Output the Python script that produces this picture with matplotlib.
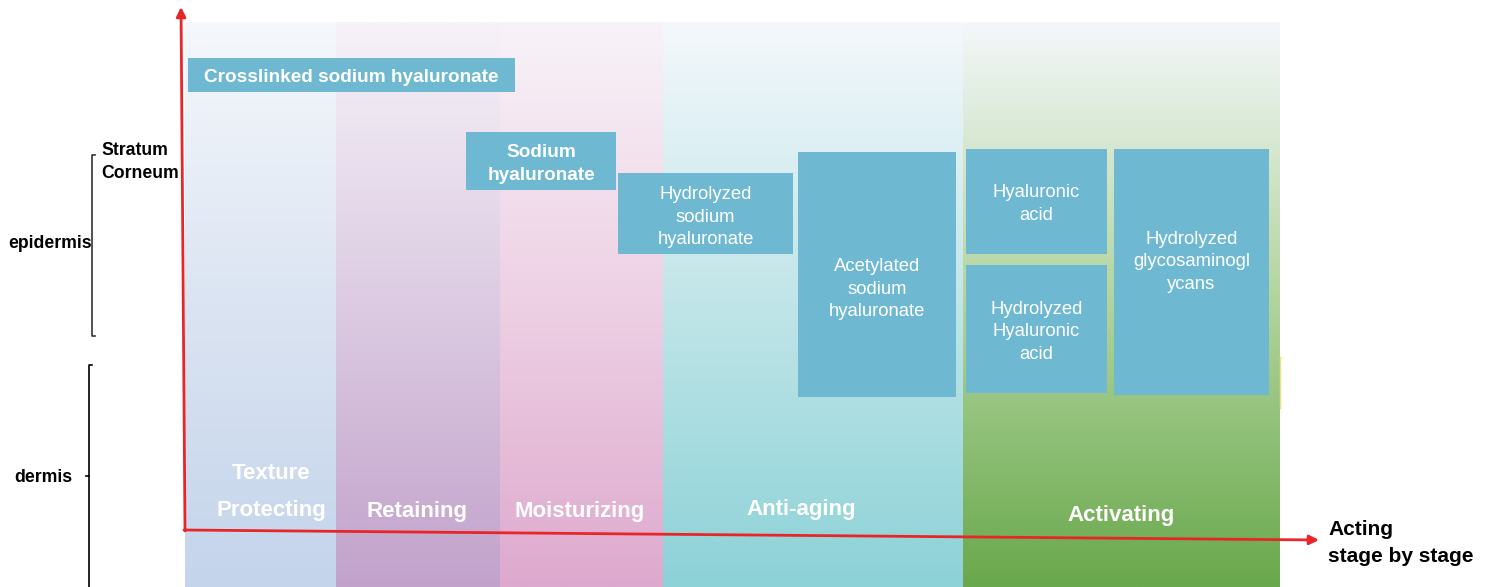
import numpy as np
import matplotlib
matplotlib.use("Agg")
import matplotlib.pyplot as plt
from matplotlib.colors import to_rgb

plt.rcParams['font.family'] = ['Liberation Sans', 'DejaVu Sans']

# ---- data ----
stages = ["Texture\nProtecting", "Retaining", "Moisturizing", "Anti-aging", "Activating"]
stage_left = [185, 336, 500, 663, 963]
stage_right = [336, 500, 663, 963, 1280]
stage_top_colors = ["#f5f8fc", "#f6f2f8", "#f8f3f8", "#f4f8fc", "#f4f7fa"]
stage_mid_colors = ["#dbe4f2", "#dccbe2", "#edd0e4", "#c0e5e8", "#b0d49c"]
stage_bottom_colors = ["#c4d4eb", "#c2a2cb", "#dea9ce", "#8cd2d7", "#69a84c"]
stage_label_x = [271, 417, 580, 801, 1121]
stage_label_y = [492, 512, 512, 510, 516]

ingredients = ["Crosslinked sodium hyaluronate", "Sodium\nhyaluronate",
               "Hydrolyzed\nsodium\nhyaluronate", "Acetylated\nsodium\nhyaluronate",
               "Hyaluronic\nacid", "Hydrolyzed\nHyaluronic\nacid",
               "Hydrolyzed\nglycosaminogl\nycans"]
ing_bold = [True, True, False, False, False, False, False]
ing_x0 = [188, 466, 618, 798, 966, 966, 1114]
ing_x1 = [515, 616, 793, 956, 1107, 1107, 1269]
ing_y0 = [58, 132, 173, 152, 149, 265, 149]
ing_y1 = [92, 190, 254, 397, 254, 393, 395]
ing_text_y = [77, 164, 217, 289, 204, 332, 262]

layers = ["epidermis", "dermis"]
box_color = "#6fb8d2"
red = "#e8262a"

fig = plt.figure(figsize=(15.02, 5.87), dpi=100)
ax = fig.add_axes([0, 0, 1, 1])
ax.set_xlim(0, 1502)
ax.set_ylim(587, 0)
ax.axis('off')

# gradient columns (three-stop vertical gradients)
top_y, bot_y = 22, 587
t = np.linspace(0, 1, 256)
for l, r, tc, mc, bc in zip(stage_left, stage_right, stage_top_colors,
                            stage_mid_colors, stage_bottom_colors):
    c0, cm, c1 = (np.array(to_rgb(c)) for c in (tc, mc, bc))
    img = np.empty((256, 2, 3))
    for k in range(3):
        col = np.interp(t, [0, 0.5, 1], [c0[k], cm[k], c1[k]])
        img[:, :, k] = col[:, None]
    ax.imshow(img, extent=[l, r, bot_y, top_y], aspect='auto', interpolation='bilinear', zorder=1)

# faint yellow edge line on the last column
ax.plot([1280, 1280], [357, 408], color='#f3dc84', lw=1, zorder=1.5)

# stage labels
for s, x, y in zip(stages, stage_label_x, stage_label_y):
    ax.text(x, y, s, ha='center', va='center', color='white', fontsize=16,
            fontweight='bold', linespacing=2.0, zorder=3)

# ingredient boxes
for name, b, x0, x1, y0, y1, ty in zip(ingredients, ing_bold, ing_x0, ing_x1, ing_y0, ing_y1, ing_text_y):
    ax.add_patch(plt.Rectangle((x0, y0), x1 - x0, y1 - y0, facecolor=box_color,
                               edgecolor='none', zorder=2))
    ax.text((x0 + x1) / 2, ty, name, ha='center', va='center', color='white',
            fontsize=13.7 if b else 13.3, fontweight='bold' if b else 'normal',
            linespacing=1.4, zorder=3)

# red axes
ax.annotate("", xy=(181, 7), xytext=(185, 531),
            arrowprops=dict(arrowstyle='-|>', color=red, lw=2, mutation_scale=14,
                            shrinkA=0, shrinkB=0), zorder=5)
ax.annotate("", xy=(1319, 540), xytext=(184, 530),
            arrowprops=dict(arrowstyle='-|>', color=red, lw=2, mutation_scale=14,
                            shrinkA=0, shrinkB=0), zorder=5)
ax.text(1328, 543, "Acting\nstage by stage", ha='left', va='center', fontsize=15,
        fontweight='bold', color='black', linespacing=1.55)

# left labels and brackets
ax.text(101, 162, "Stratum\nCorneum", ha='left', va='center', fontsize=12.7,
        fontweight='bold', linespacing=1.4)
ax.plot([95, 92, 92, 95], [155, 155, 336, 336], color='#333333', lw=1.2)
ax.text(92, 243, layers[0], ha='right', va='center', fontsize=12.7, fontweight='bold')
ax.plot([92, 89, 89], [365, 365, 590], color='black', lw=1.2)
ax.plot([86, 89], [476, 476], color='black', lw=1.2)
ax.text(72, 477, layers[1], ha='right', va='center', fontsize=12.7, fontweight='bold')

fig.savefig("out.png", dpi=100)
